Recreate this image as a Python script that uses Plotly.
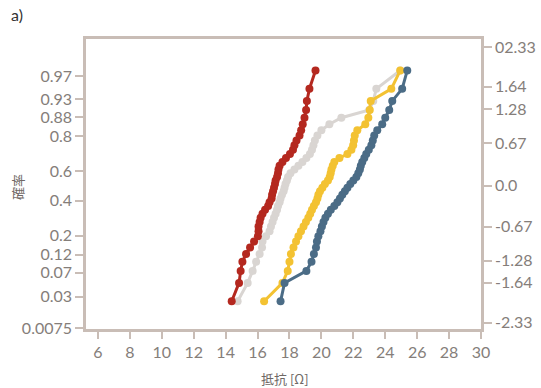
import plotly.graph_objects as go

# Probability-plot positions (shared by all four series, bottom to top)
y_pos = [-1.863, -1.566, -1.372, -1.224, -1.101, -0.995, -0.899, -0.812, -0.731, -0.655,
         -0.584, -0.515, -0.450, -0.386, -0.324, -0.264, -0.204, -0.145, -0.087, -0.029,
         0.029, 0.087, 0.145, 0.204, 0.264, 0.324, 0.386, 0.450, 0.515, 0.584,
         0.655, 0.731, 0.812, 0.899, 0.995, 1.101, 1.224, 1.372, 1.566, 1.863]

red_x = [14.38, 14.84, 14.94, 15.05, 15.28, 15.53, 15.78, 16.02, 16.06, 16.06,
         16.13, 16.19, 16.31, 16.47, 16.66, 16.75, 16.88, 16.91, 16.97, 17.03,
         17.09, 17.13, 17.22, 17.28, 17.31, 17.38, 17.56, 17.78, 18.03, 18.22,
         18.31, 18.44, 18.63, 18.73, 18.83, 18.94, 19.04, 19.09, 19.25, 19.63]

gray_x = [14.75, 15.38, 15.69, 15.91, 16.13, 16.28, 16.31, 16.53, 16.75, 16.84,
          16.94, 17.03, 17.13, 17.22, 17.28, 17.38, 17.44, 17.53, 17.63, 17.69,
          17.75, 17.84, 17.91, 18.06, 18.31, 18.56, 18.81, 19.06, 19.28, 19.41,
          19.50, 19.59, 19.75, 20.00, 20.50, 21.25, 23.00, 23.25, 23.44, 24.94]

yellow_x = [16.41, 17.56, 17.89, 18.00, 18.09, 18.25, 18.41, 18.56, 18.72, 18.88,
            19.03, 19.18, 19.30, 19.41, 19.53, 19.66, 19.75, 19.81, 19.91, 20.06,
            20.22, 20.41, 20.52, 20.58, 20.63, 20.71, 20.81, 21.13, 21.63, 21.88,
            21.99, 22.04, 22.09, 22.25, 22.75, 22.94, 23.03, 23.09, 24.38, 24.94]

blue_x = [17.44, 17.69, 19.06, 19.38, 19.53, 19.66, 19.72, 19.81, 19.94, 20.03,
          20.13, 20.25, 20.41, 20.59, 20.81, 21.00, 21.16, 21.31, 21.47, 21.63,
          21.81, 22.00, 22.19, 22.31, 22.41, 22.47, 22.56, 22.69, 22.81, 22.97,
          23.13, 23.22, 23.31, 23.50, 23.81, 24.00, 24.25, 24.44, 25.06, 25.38]

# Left axis: cumulative probability labels
left_tick_pos = [1.774, 1.403, 1.113, 0.806, 0.242, -0.242, -0.806, -1.113, -1.403, -1.790, -2.300]
left_tick_txt = ["0.97", "0.93", "0.88", "0.8", "0.6", "0.4", "0.2", "0.12", "0.07", "0.03", "0.0075"]

# Right axis: standard normal quantile labels
right_tick_pos = [2.24, 1.60, 1.24, 0.69, 0.0, -0.66, -1.21, -1.56, -2.21]
right_tick_txt = ["02.33", "1.64", "1.28", "0.67", "0.0", "-0.67", "-1.28", "-1.64", "-2.33"]

x_ticks = [6, 8, 10, 12, 14, 16, 18, 20, 22, 24, 26, 28, 30]

series = [
    ("gray", gray_x, "#d9d5d2"),
    ("red", red_x, "#b4281f"),
    ("yellow", yellow_x, "#f3c232"),
    ("blue", blue_x, "#4b6c86"),
]

Y_RANGE = [-2.31, 2.371]
frame = "#c9bdb6"
tick_font = dict(family="Lato, sans-serif", size=16, color="#857e7a")
title_font = dict(family="Noto Sans CJK JP, sans-serif", size=13, color="#6f6865")

fig = go.Figure()
for name, xs, col in series:
    fig.add_trace(go.Scatter(
        x=xs, y=y_pos, mode="lines+markers", name=name,
        line=dict(color=col, width=3),
        marker=dict(color=col, size=8),
        showlegend=False, hoverinfo="skip"))

# invisible trace to activate right axis
fig.add_trace(go.Scatter(x=[None], y=[None], yaxis="y2", showlegend=False))

fig.update_layout(
    width=541, height=388,
    margin=dict(l=86, r=60, t=39, b=59),
    paper_bgcolor="white", plot_bgcolor="white",
    xaxis=dict(range=[5.25, 30], tickvals=x_ticks, ticks="outside", ticklen=7, tickwidth=1.5,
               tickcolor=frame, showline=True, linecolor=frame, linewidth=2.5, mirror=True,
               showgrid=False, zeroline=False, tickfont=tick_font, automargin=False),
    yaxis=dict(range=Y_RANGE, tickvals=left_tick_pos, ticktext=left_tick_txt, ticks="outside",
               ticklen=8, tickwidth=1.5, tickcolor=frame, showline=True, linecolor=frame,
               linewidth=2.5, showgrid=False, zeroline=False, tickfont=tick_font,
               automargin=False),
    yaxis2=dict(range=Y_RANGE, overlaying="y", side="right", tickvals=right_tick_pos,
                ticktext=right_tick_txt, ticks="outside", ticklen=8, tickwidth=1.5,
                tickcolor=frame, showline=True, linecolor=frame, linewidth=2.5,
                showgrid=False, zeroline=False, tickfont=tick_font, automargin=False),
)
fig.add_annotation(text="抵抗 [Ω]", xref="paper", yref="paper", x=0.504, y=-0.169,
                   xanchor="center", yanchor="middle", showarrow=False, font=title_font)
fig.add_annotation(text="確率", xref="paper", yref="paper", x=-0.172, y=0.49,
                   xanchor="center", yanchor="middle", showarrow=False, textangle=-90,
                   font=title_font)
fig.add_annotation(text="a)", xref="paper", yref="paper", x=-0.195, y=1.083,
                   xanchor="left", yanchor="middle", showarrow=False,
                   font=dict(family="Lato, sans-serif", size=16, color="#333333"))

fig.write_html("out.html")
